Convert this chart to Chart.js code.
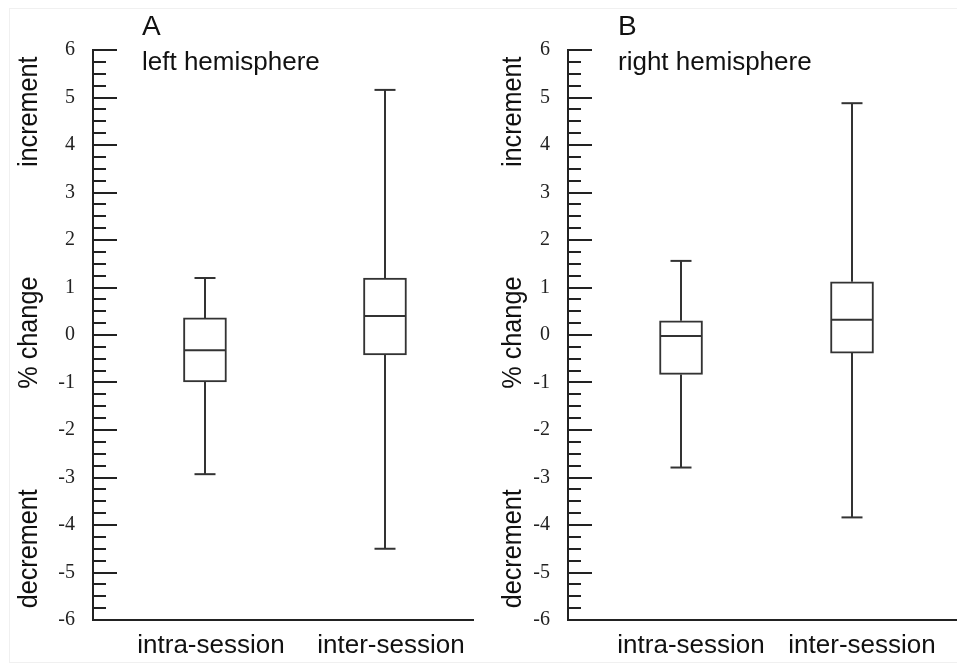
<!DOCTYPE html>
<html>
<head>
<meta charset="utf-8">
<script src="https://cdn.jsdelivr.net/npm/chart.js@4.4.1/dist/chart.umd.min.js"></script>
<style>
  body { margin: 0; background: #fff; }
  #frame { position: absolute; left: 9px; top: 8px; width: 948px; height: 653px;
           border-left: 1px solid #f0f0f0; border-top: 1px solid #f0f0f0; border-bottom: 1px solid #f0f0f0; }
  canvas { position: absolute; top: 0; }
</style>
</head>
<body>
<div id="frame"></div>
<canvas id="chartA" width="478" height="663" style="left:0"></canvas>
<canvas id="chartB" width="479" height="663" style="left:478px"></canvas>
<script>
const categories = ['intra-session', 'inter-session'];
const axisWords = ['increment', '% change', 'decrement'];

// panel A - left hemisphere
const leftMin = [-2.93, -4.5];
const leftQ1 = [-0.99, -0.42];
const leftMedian = [-0.32, 0.4];
const leftQ3 = [0.36, 1.2];
const leftMax = [1.2, 5.16];

// panel B - right hemisphere
const rightMin = [-2.79, -3.84];
const rightQ1 = [-0.83, -0.38];
const rightMedian = [-0.02, 0.32];
const rightQ3 = [0.3, 1.12];
const rightMax = [1.56, 4.88];

const lineColor = '#333';
Chart.defaults.font.family = "'Liberation Sans', Arial, sans-serif";

// whiskers, caps and median lines
const boxPlotPlugin = {
  id: 'boxPlot',
  afterDatasetsDraw(chart, args, opts) {
    const { ctx, scales: { x, y } } = chart;
    const meta = chart.getDatasetMeta(0);
    ctx.save();
    ctx.strokeStyle = lineColor;
    ctx.lineWidth = 2;
    opts.median.forEach((m, i) => {
      const cx = Math.round(x.getPixelForValue(i + 1));
      const half = meta.data[i].width / 2;
      const cap = 10.5;
      const seg = (x1, y1, x2, y2) => {
        ctx.beginPath(); ctx.moveTo(x1, y1); ctx.lineTo(x2, y2); ctx.stroke();
      };
      seg(cx, y.getPixelForValue(opts.q3[i]), cx, y.getPixelForValue(opts.max[i]));
      seg(cx - cap, y.getPixelForValue(opts.max[i]), cx + cap, y.getPixelForValue(opts.max[i]));
      seg(cx, y.getPixelForValue(opts.q1[i]), cx, y.getPixelForValue(opts.min[i]));
      seg(cx - cap, y.getPixelForValue(opts.min[i]), cx + cap, y.getPixelForValue(opts.min[i]));
      seg(cx - half + 1, y.getPixelForValue(m), cx + half - 1, y.getPixelForValue(m));
    });
    ctx.restore();
  }
};

// inward tick marks on the y axis + panel texts
const decorPlugin = {
  id: 'decor',
  afterDraw(chart, args, opts) {
    const { ctx, chartArea: area, scales: { y } } = chart;
    ctx.save();
    ctx.strokeStyle = '#222';
    ctx.lineWidth = 2;
    y.ticks.forEach(t => {
      const py = Math.round(y.getPixelForValue(t.value));
      const len = Number.isInteger(t.value) ? 24 : 13;
      ctx.beginPath();
      ctx.moveTo(area.left, py);
      ctx.lineTo(area.left + len, py);
      ctx.stroke();
    });

    ctx.fillStyle = '#111';
    ctx.textBaseline = 'alphabetic';
    ctx.textAlign = 'left';
    ctx.font = "28px 'Liberation Sans', Arial, sans-serif";
    ctx.fillText(opts.letter, area.left + opts.textX, area.top - 15);
    ctx.font = "26px 'Liberation Sans', Arial, sans-serif";
    ctx.fillText(opts.subtitle, area.left + opts.textX, area.top + 20);

    ctx.font = "28px 'Liberation Sans', Arial, sans-serif";
    ctx.textAlign = 'center';
    axisWords.forEach((w, i) => {
      ctx.save();
      ctx.translate(area.left + opts.wordX, y.getPixelForValue(opts.wordAt[i]));
      ctx.rotate(-Math.PI / 2);
      ctx.scale(0.9, 1);
      ctx.fillText(w, 0, 0);
      ctx.restore();
    });
    ctx.restore();
  }
};

function makeChart(id, stats, panel) {
  return new Chart(document.getElementById(id), {
    type: 'bar',
    data: {
      datasets: [{
        data: categories.map((c, i) => ({ x: i + 1, y: [stats.q1[i], stats.q3[i]] })),
        backgroundColor: '#fff',
        borderColor: lineColor,
        borderWidth: 2,
        borderSkipped: false,
        barThickness: 43
      }]
    },
    options: {
      responsive: false,
      animation: false,
      events: [],
      layout: { padding: { top: 50, right: panel.padRight, left: 0, bottom: 0 } },
      plugins: {
        legend: { display: false },
        tooltip: { enabled: false },
        boxPlot: stats,
        decor: panel
      },
      scales: {
        x: {
          type: 'linear',
          offset: false,
          min: panel.xMin,
          max: panel.xMax,
          afterBuildTicks: s => { s.ticks = categories.map((c, i) => ({ value: i + 1 })); },
          ticks: {
            callback: v => categories[v - 1],
            font: { size: 26 },
            color: '#111',
            padding: 10,
            labelOffset: panel.labelOffset,
            autoSkip: false,
            maxRotation: 0
          },
          grid: { display: false, drawTicks: false },
          border: { display: true, color: '#222', width: 2 },
          afterFit: s => { s.height = 43; }
        },
        y: {
          min: -6,
          max: 6,
          ticks: {
            stepSize: 0.25,
            autoSkip: false,
            maxTicksLimit: 100,
            callback: v => Number.isInteger(v) ? String(v) : '',
            font: { family: "'Liberation Serif', 'Times New Roman', serif", size: 20 },
            color: '#222',
            padding: 18
          },
          grid: { display: false, drawTicks: false },
          border: { display: true, color: '#222', width: 2 },
          afterFit: s => { s.width = panel.yWidth; }
        }
      }
    },
    plugins: [boxPlotPlugin, decorPlugin]
  });
}

makeChart('chartA',
  { min: leftMin, q1: leftQ1, median: leftMedian, q3: leftQ3, max: leftMax },
  { letter: 'A', subtitle: 'left hemisphere', textX: 49, wordX: -56, wordAt: [4.7, 0.05, -4.5],
    yWidth: 93, padRight: 5, xMin: 0.378, xMax: 2.489, labelOffset: 6 });

makeChart('chartB',
  { min: rightMin, q1: rightQ1, median: rightMedian, q3: rightQ3, max: rightMax },
  { letter: 'B', subtitle: 'right hemisphere', textX: 50, wordX: -47, wordAt: [4.7, 0.05, -4.5],
    yWidth: 90, padRight: 0, xMin: 0.339, xMax: 2.614, labelOffset: 10 });
</script>
</body>
</html>
